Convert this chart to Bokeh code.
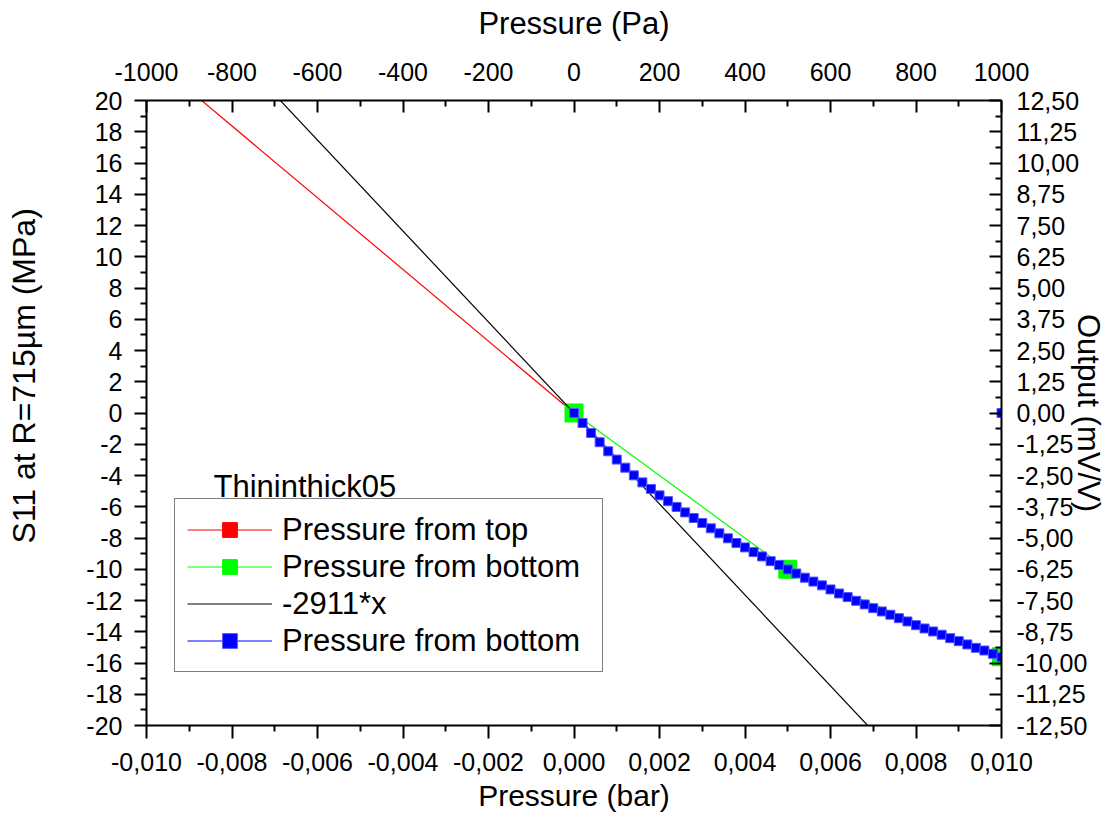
from bokeh.plotting import figure
from bokeh.models import (Range1d, LinearAxis, FixedTicker, Legend, LegendItem, Label, Title)
from bokeh.embed import file_html
from bokeh.resources import INLINE

# ---------------- data ----------------
red_bar = [-0.010, 0.000]
red_mpa = [22.96, 0.00]

green_bar = [0.000, 0.005, 0.010]
green_mpa = [0.00, -10.00, -15.60]

line_bar = [-0.010, 0.010]
line_mpa = [29.11, -29.11]          # -2911*x

blue_bar = [0.0000, 0.0002, 0.0004, 0.0006, 0.0008, 0.0010, 0.0012, 0.0014, 0.0016, 0.0018,
            0.0020, 0.0022, 0.0024, 0.0026, 0.0028, 0.0030, 0.0032, 0.0034, 0.0036, 0.0038,
            0.0040, 0.0042, 0.0044, 0.0046, 0.0048, 0.0050, 0.0052, 0.0054, 0.0056, 0.0058,
            0.0060, 0.0062, 0.0064, 0.0066, 0.0068, 0.0070, 0.0072, 0.0074, 0.0076, 0.0078,
            0.0080, 0.0082, 0.0084, 0.0086, 0.0088, 0.0090, 0.0092, 0.0094, 0.0096, 0.0098,
            0.0100, 0.0100]
blue_mpa = [0.00, -0.64, -1.28, -1.87, -2.45, -2.98, -3.50, -3.99, -4.44, -4.86,
            -5.27, -5.64, -6.01, -6.36, -6.72, -7.04, -7.38, -7.70, -8.02, -8.32,
            -8.60, -8.90, -9.18, -9.48, -9.73, -10.01, -10.27, -10.54, -10.79, -11.03,
            -11.29, -11.55, -11.78, -12.02, -12.25, -12.49, -12.70, -12.91, -13.13, -13.34,
            -13.58, -13.79, -13.98, -14.19, -14.41, -14.60, -14.81, -15.03, -15.20, -15.41,
            -15.63, 0.00]

# ---------------- ticks ----------------
bar_ticks = [-0.010, -0.008, -0.006, -0.004, -0.002, 0.0, 0.002, 0.004, 0.006, 0.008, 0.010]
bar_labels = ["-0,010", "-0,008", "-0,006", "-0,004", "-0,002", "0,000",
              "0,002", "0,004", "0,006", "0,008", "0,010"]
bar_minor = [-0.009, -0.007, -0.005, -0.003, -0.001, 0.001, 0.003, 0.005, 0.007, 0.009]

pa_ticks = [-1000, -800, -600, -400, -200, 0, 200, 400, 600, 800, 1000]
pa_labels = ["-1000", "-800", "-600", "-400", "-200", "0", "200", "400", "600", "800", "1000"]
pa_minor = [-900, -700, -500, -300, -100, 100, 300, 500, 700, 900]

mpa_ticks = [-20, -18, -16, -14, -12, -10, -8, -6, -4, -2, 0, 2, 4, 6, 8, 10, 12, 14, 16, 18, 20]
mpa_labels = ["-20", "-18", "-16", "-14", "-12", "-10", "-8", "-6", "-4", "-2", "0",
              "2", "4", "6", "8", "10", "12", "14", "16", "18", "20"]
mpa_minor = [-19, -17, -15, -13, -11, -9, -7, -5, -3, -1, 1, 3, 5, 7, 9, 11, 13, 15, 17, 19]

mvv_ticks = [-12.5, -11.25, -10.0, -8.75, -7.5, -6.25, -5.0, -3.75, -2.5, -1.25, 0.0,
             1.25, 2.5, 3.75, 5.0, 6.25, 7.5, 8.75, 10.0, 11.25, 12.5]
mvv_labels = ["-12,50", "-11,25", "-10,00", "-8,75", "-7,50", "-6,25", "-5,00", "-3,75",
              "-2,50", "-1,25", "0,00", "1,25", "2,50", "3,75", "5,00", "6,25", "7,50",
              "8,75", "10,00", "11,25", "12,50"]
mvv_minor = [-11.875, -10.625, -9.375, -8.125, -6.875, -5.625, -4.375, -3.125, -1.875,
             -0.625, 0.625, 1.875, 3.125, 4.375, 5.625, 6.875, 8.125, 9.375, 10.625, 11.875]

FONT = "Liberation Sans"

p = figure(width=1110, height=823,
           x_range=Range1d(-0.01, 0.01), y_range=Range1d(-20, 20),
           output_backend="svg", toolbar_location=None,
           x_axis_location=None, y_axis_location=None,
           min_border_left=146, min_border_right=109, min_border_top=100, min_border_bottom=98)
p.extra_x_ranges = {"pa": Range1d(-1000, 1000)}
p.extra_y_ranges = {"mvv": Range1d(-12.5, 12.5)}
p.xgrid.visible = False
p.ygrid.visible = False
p.outline_line_color = None
p.background_fill_color = "white"
p.border_fill_color = "white"


def style(ax, t_in, t_out, standoff, title_size="31px"):
    ax.axis_line_width = 2
    ax.axis_line_color = "black"
    ax.major_tick_line_width = 2
    ax.minor_tick_line_width = 2
    ax.major_tick_in = t_in
    ax.major_tick_out = t_out
    ax.minor_tick_in = t_in // 2
    ax.minor_tick_out = t_out // 2
    ax.major_label_standoff = standoff
    ax.major_label_text_font = FONT
    ax.major_label_text_font_size = "25px"
    ax.major_label_text_color = "black"
    ax.axis_label_text_font = FONT
    ax.axis_label_text_font_size = title_size
    ax.axis_label_text_font_style = "normal"
    ax.axis_label_text_color = "black"


bottom = LinearAxis(ticker=FixedTicker(ticks=bar_ticks, minor_ticks=bar_minor),
                    axis_label="Pressure (bar)")
bottom.major_label_overrides = dict(zip(bar_ticks, bar_labels))
style(bottom, 0, 13, 14, "30px")
bottom.axis_label_standoff = 5
p.add_layout(bottom, "below")

top = LinearAxis(x_range_name="pa", ticker=FixedTicker(ticks=pa_ticks, minor_ticks=pa_minor),
                 axis_label="Pressure (Pa)")
top.major_label_overrides = dict(zip(pa_ticks, pa_labels))
style(top, 12, 0, 20)
top.axis_label_standoff = 19
p.add_layout(top, "above")

left = LinearAxis(ticker=FixedTicker(ticks=mpa_ticks, minor_ticks=mpa_minor))
left.major_label_overrides = dict(zip(mpa_ticks, mpa_labels))
style(left, 0, 12, 12, "32px")
p.add_layout(left, "left")

# invisible spacer between the tick labels and the left title
spacer = LinearAxis(ticker=FixedTicker(ticks=[0], minor_ticks=[]))
spacer.major_label_overrides = {0: ""}
spacer.axis_line_color = None
spacer.major_tick_line_color = None
spacer.minor_tick_line_color = None
spacer.major_tick_in = 0
spacer.major_tick_out = 41
spacer.minor_tick_in = 0
spacer.minor_tick_out = 0
spacer.major_label_standoff = 0
p.add_layout(spacer, "left")

left_title = Title(text="S11 at R=715µm (MPa)", align="left", offset=182,
                   vertical_align="middle", standoff=0,
                   text_font=FONT, text_font_size="32px", text_font_style="normal",
                   text_color="black")
p.add_layout(left_title, "left")

right = LinearAxis(y_range_name="mvv", ticker=FixedTicker(ticks=mvv_ticks, minor_ticks=mvv_minor),
                   axis_label="Output (mV/V)")
right.major_label_overrides = dict(zip(mvv_ticks, mvv_labels))
style(right, 12, 0, 15)
right.axis_label_standoff = -19
p.add_layout(right, "right")

# ---------------- series ----------------
r_red_l = p.line(red_bar, red_mpa, line_color="#ff0000", line_width=1.2)
r_red_m = p.scatter(red_bar, red_mpa, marker="square", size=17,
                    fill_color="#ff0000", line_color="#ff0000")
r_grn_l = p.line(green_bar, green_mpa, line_color="#00ff00", line_width=1.2)
r_grn_m = p.scatter(green_bar, green_mpa, marker="square", size=18,
                    fill_color="#00ff00", line_color="#00ff00")
r_blk = p.line(line_bar, line_mpa, line_color="black", line_width=1.2)
r_blu_l = p.line(blue_bar, blue_mpa, line_color="#0000ff", line_width=1.2)
r_blu_m = p.scatter(blue_bar, blue_mpa, marker="square", size=9,
                    fill_color="#0000ff", line_color="#5555ff", line_width=1)

legend = Legend(items=[
    LegendItem(label="Pressure from top", renderers=[r_red_l, r_red_m]),
    LegendItem(label="Pressure from bottom", renderers=[r_grn_l, r_grn_m]),
    LegendItem(label="-2911*x", renderers=[r_blk]),
    LegendItem(label="Pressure from bottom", renderers=[r_blu_l, r_blu_m]),
], location=(28, 53))
legend.margin = 0
legend.padding = 12
legend.spacing = 0
legend.glyph_width = 85
legend.glyph_height = 37
legend.label_height = 37
legend.label_width = 308
legend.label_standoff = 10
legend.label_text_font = FONT
legend.label_text_font_size = "31px"
legend.label_text_color = "black"
legend.border_line_color = "black"
legend.border_line_width = 1.5
legend.background_fill_color = "white"
legend.background_fill_alpha = 1.0
p.add_layout(legend, "center")

p.add_layout(Label(x=67, y=239, x_units="screen", y_units="screen", text="Thininthick05",
                   text_font=FONT, text_font_size="31px", text_color="black",
                   text_baseline="alphabetic", text_align="left"))

open("out.html", "w").write(file_html(p, INLINE))
